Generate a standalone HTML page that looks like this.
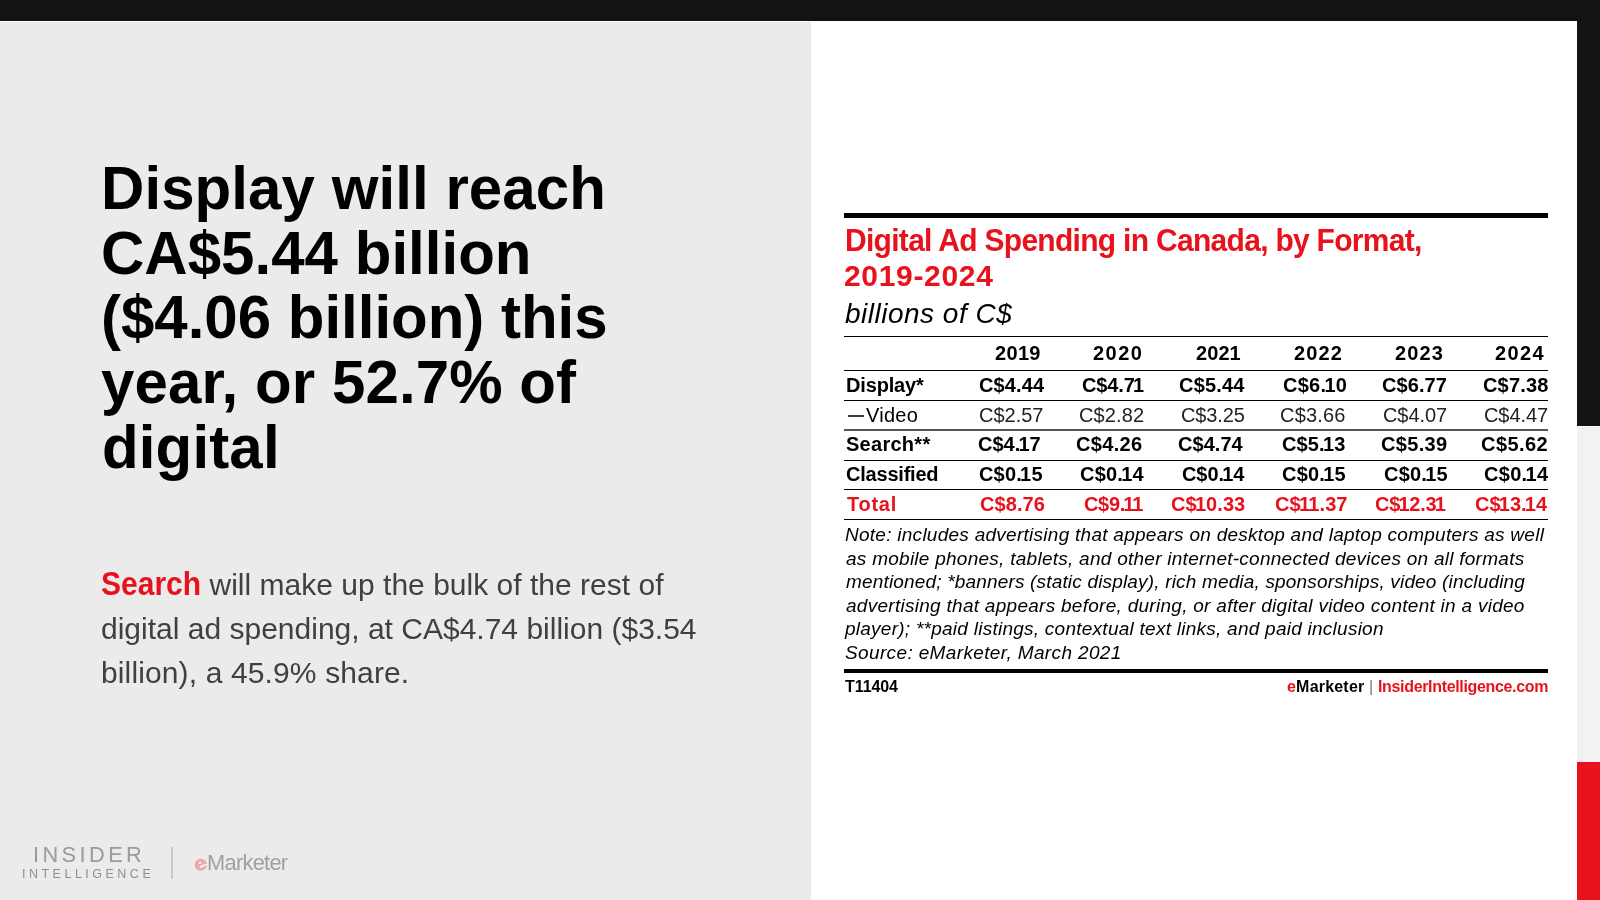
<!DOCTYPE html>
<html><head><meta charset="utf-8">
<style>
*{margin:0;padding:0;box-sizing:border-box}
html,body{width:1600px;height:900px;overflow:hidden;background:#fff;font-family:"Liberation Sans",sans-serif}
.bx{position:absolute}
.r{position:absolute}
.t{position:absolute;white-space:nowrap;line-height:1;will-change:transform}
</style></head><body>
<div class="bx" style="left:0;top:0;width:1600px;height:21px;background:#131313"></div>
<div class="bx" style="left:0;top:22px;width:811px;height:878px;background:#ebebeb"></div>
<div class="bx" style="left:1577px;top:0;width:23px;height:426px;background:#131313"></div>
<div class="bx" style="left:1577px;top:427px;width:23px;height:335px;background:#f2f2f2"></div>
<div class="bx" style="left:1577px;top:762px;width:23px;height:138px;background:#e8121c"></div>
<div class="r" style="left:844px;top:213px;width:704px;height:5px;background:#000"></div>
<div class="r" style="left:844px;top:336px;width:704px;height:1px;background:#000"></div>
<div class="r" style="left:844px;top:370px;width:704px;height:1px;background:#000"></div>
<div class="r" style="left:844px;top:400px;width:704px;height:1px;background:#000"></div>
<div class="r" style="left:844px;top:429px;width:704px;height:2px;background:#555"></div>
<div class="r" style="left:844px;top:460px;width:704px;height:1px;background:#000"></div>
<div class="r" style="left:844px;top:489px;width:704px;height:1px;background:#000"></div>
<div class="r" style="left:844px;top:519px;width:704px;height:1px;background:#000"></div>
<div class="r" style="left:844px;top:669px;width:704px;height:4px;background:#000"></div>
<div class="t" id="h0" style="left:100.90px;top:158.90px;font-size:60px;font-weight:bold;color:#000;letter-spacing:0.074px;transform:scaleY(1.03);transform-origin:0 50.80px">Display will reach</div>
<div class="t" id="h1" style="left:101.00px;top:223.55px;font-size:60px;font-weight:bold;color:#000;letter-spacing:0.029px;transform:scaleY(1.03);transform-origin:0 50.80px">CA$5.44 billion</div>
<div class="t" id="h2" style="left:101.00px;top:288.20px;font-size:60px;font-weight:bold;color:#000;letter-spacing:-0.005px;transform:scaleY(1.03);transform-origin:0 50.80px">($4.06 billion) this</div>
<div class="t" id="h3" style="left:100.80px;top:352.85px;font-size:60px;font-weight:bold;color:#000;letter-spacing:0.094px;transform:scaleY(1.03);transform-origin:0 50.80px">year, or 52.7% of</div>
<div class="t" id="h4" style="left:101.50px;top:417.50px;font-size:60px;font-weight:bold;color:#000;letter-spacing:0.150px;transform:scaleY(1.03);transform-origin:0 50.80px">digital</div>
<div class="t" id="b0" style="left:101.00px;top:570.10px;font-size:30px;color:#404040;letter-spacing:0.013px;transform:scaleY(1.0);transform-origin:0 25.40px"><b style="color:#e8121c;display:inline-block;transform:scaleY(1.1);transform-origin:0 25.4px">Search</b> will make up the bulk of the rest of</div>
<div class="t" id="b1" style="left:101.00px;top:613.80px;font-size:30px;color:#404040;letter-spacing:0.003px;transform:scaleY(1.0);transform-origin:0 25.40px">digital ad spending, at CA$4.74 billion ($3.54</div>
<div class="t" id="b2" style="left:101.00px;top:657.50px;font-size:30px;color:#404040;letter-spacing:0.130px;transform:scaleY(1.0);transform-origin:0 25.40px">billion), a 45.9% share.</div>
<div class="t" id="tt0" style="left:844.50px;top:225.70px;font-size:30px;font-weight:bold;color:#e8121c;letter-spacing:-0.705px;transform:scaleY(1.05);transform-origin:0 25.40px">Digital Ad Spending in Canada, by Format,</div>
<div class="t" id="tt1" style="left:844.30px;top:260.80px;font-size:30px;font-weight:bold;color:#e8121c;letter-spacing:0.671px">2019-2024</div>
<div class="t" id="st" style="left:845.10px;top:300.39px;font-size:28px;font-style:italic;color:#000;letter-spacing:0.495px">billions of C$</div>
<div class="t" id="y0" style="right:558.75px;top:343.07px;font-size:20px;font-weight:bold;color:#000;letter-spacing:0.335px">2019</div>
<div class="t" id="y1" style="right:456.43px;top:343.07px;font-size:20px;font-weight:bold;color:#000;letter-spacing:1.467px">2020</div>
<div class="t" id="y2" style="right:359.73px;top:343.07px;font-size:20px;font-weight:bold;color:#000;letter-spacing:0.067px">2021</div>
<div class="t" id="y3" style="right:257.06px;top:343.07px;font-size:20px;font-weight:bold;color:#000;letter-spacing:1.134px">2022</div>
<div class="t" id="y4" style="right:156.06px;top:343.07px;font-size:20px;font-weight:bold;color:#000;letter-spacing:1.134px">2023</div>
<div class="t" id="y5" style="right:54.70px;top:343.07px;font-size:20px;font-weight:bold;color:#000;letter-spacing:1.400px">2024</div>
<div class="t" id="l0" style="left:845.50px;top:375.07px;font-size:20px;font-weight:bold;color:#000;letter-spacing:-0.158px">Display*</div>
<div class="t" id="v00" style="right:555.78px;top:375.07px;font-size:20px;font-weight:bold;color:#000;letter-spacing:0.120px">C$4.44</div>
<div class="t" id="v01" style="right:455.62px;top:375.07px;font-size:20px;font-weight:bold;color:#000;letter-spacing:-0.120px">C$4.7<span style="margin-left:-1.8px">1</span></div>
<div class="t" id="v02" style="right:354.90px;top:375.07px;font-size:20px;font-weight:bold;color:#000;letter-spacing:0.200px">C$5.44</div>
<div class="t" id="v03" style="right:253.26px;top:375.07px;font-size:20px;font-weight:bold;color:#000;letter-spacing:0.240px">C$6.<span style="margin-left:-1.8px">1</span>0</div>
<div class="t" id="v04" style="right:152.92px;top:375.07px;font-size:20px;font-weight:bold;color:#000;letter-spacing:0.080px">C$6.77</div>
<div class="t" id="v05" style="right:52.04px;top:375.07px;font-size:20px;font-weight:bold;color:#000;letter-spacing:0.160px">C$7.38</div>
<div class="t" id="l1" style="left:848.20px;top:404.77px;font-size:20px;font-weight:normal;color:#000;letter-spacing:0.250px"><span style="display:inline-block;width:16px;height:2px;background:#3a3a3a;vertical-align:5.2px;margin-right:2px"></span>Video</div>
<div class="t" id="v10" style="right:556.50px;top:404.77px;font-size:20px;font-weight:normal;color:#222;letter-spacing:0.000px">C$2.57</div>
<div class="t" id="v11" style="right:455.78px;top:404.77px;font-size:20px;font-weight:normal;color:#222;letter-spacing:0.120px">C$2.82</div>
<div class="t" id="v12" style="right:355.62px;top:404.77px;font-size:20px;font-weight:normal;color:#222;letter-spacing:-0.120px">C$3.25</div>
<div class="t" id="v13" style="right:253.90px;top:404.77px;font-size:20px;font-weight:normal;color:#222;letter-spacing:0.200px">C$3.66</div>
<div class="t" id="v14" style="right:153.08px;top:404.77px;font-size:20px;font-weight:normal;color:#222;letter-spacing:-0.080px">C$4.07</div>
<div class="t" id="v15" style="right:52.48px;top:404.77px;font-size:20px;font-weight:normal;color:#222;letter-spacing:-0.080px">C$4.47</div>
<div class="t" id="l2" style="left:845.50px;top:434.07px;font-size:20px;font-weight:bold;color:#000;letter-spacing:0.271px">Search**</div>
<div class="t" id="v20" style="right:559.10px;top:434.07px;font-size:20px;font-weight:bold;color:#000;letter-spacing:0.000px">C$4.<span style="margin-left:-1.8px">1</span>7</div>
<div class="t" id="v21" style="right:457.58px;top:434.07px;font-size:20px;font-weight:bold;color:#000;letter-spacing:0.320px">C$4.26</div>
<div class="t" id="v22" style="right:356.86px;top:434.07px;font-size:20px;font-weight:bold;color:#000;letter-spacing:0.040px">C$4.74</div>
<div class="t" id="v23" style="right:254.78px;top:434.07px;font-size:20px;font-weight:bold;color:#000;letter-spacing:0.120px">C$5.<span style="margin-left:-1.8px">1</span>3</div>
<div class="t" id="v24" style="right:152.68px;top:434.07px;font-size:20px;font-weight:bold;color:#000;letter-spacing:0.320px">C$5.39</div>
<div class="t" id="v25" style="right:51.96px;top:434.07px;font-size:20px;font-weight:bold;color:#000;letter-spacing:0.440px">C$5.62</div>
<div class="t" id="l3" style="left:845.50px;top:463.77px;font-size:20px;font-weight:bold;color:#000;letter-spacing:-0.213px">Classified</div>
<div class="t" id="v30" style="right:556.94px;top:463.77px;font-size:20px;font-weight:bold;color:#000;letter-spacing:0.160px">C$0.<span style="margin-left:-1.8px">1</span>5</div>
<div class="t" id="v31" style="right:455.70px;top:463.77px;font-size:20px;font-weight:bold;color:#000;letter-spacing:0.200px">C$0.<span style="margin-left:-1.8px">1</span>4</div>
<div class="t" id="v32" style="right:355.98px;top:463.77px;font-size:20px;font-weight:bold;color:#000;letter-spacing:-0.080px">C$0.<span style="margin-left:-1.8px">1</span>4</div>
<div class="t" id="v33" style="right:253.70px;top:463.77px;font-size:20px;font-weight:bold;color:#000;letter-spacing:0.200px">C$0.<span style="margin-left:-1.8px">1</span>5</div>
<div class="t" id="v34" style="right:152.40px;top:463.77px;font-size:20px;font-weight:bold;color:#000;letter-spacing:0.200px">C$0.<span style="margin-left:-1.8px">1</span>5</div>
<div class="t" id="v35" style="right:51.32px;top:463.77px;font-size:20px;font-weight:bold;color:#000;letter-spacing:0.280px">C$0.<span style="margin-left:-1.8px">1</span>4</div>
<div class="t" id="l4" style="left:846.50px;top:493.77px;font-size:20px;font-weight:bold;color:#e8121c;letter-spacing:0.750px">Total</div>
<div class="t" id="v40" style="right:555.42px;top:493.77px;font-size:20px;font-weight:bold;color:#e8121c;letter-spacing:0.080px">C$8.76</div>
<div class="t" id="v41" style="right:456.82px;top:493.77px;font-size:20px;font-weight:bold;color:#e8121c;letter-spacing:-0.320px">C$9.<span style="margin-left:-1.8px">1</span><span style="margin-left:-1.8px">1</span></div>
<div class="t" id="v42" style="right:355.03px;top:493.77px;font-size:20px;font-weight:bold;color:#e8121c;letter-spacing:0.067px">C$<span style="margin-left:-1.8px">1</span>0.33</div>
<div class="t" id="v43" style="right:252.44px;top:493.77px;font-size:20px;font-weight:bold;color:#e8121c;letter-spacing:0.066px">C$<span style="margin-left:-1.8px">1</span><span style="margin-left:-1.8px">1</span>.37</div>
<div class="t" id="v44" style="right:154.80px;top:493.77px;font-size:20px;font-weight:bold;color:#e8121c;letter-spacing:-0.200px">C$<span style="margin-left:-1.8px">1</span>2.3<span style="margin-left:-1.8px">1</span></div>
<div class="t" id="v45" style="right:53.40px;top:493.77px;font-size:20px;font-weight:bold;color:#e8121c;letter-spacing:-0.000px">C$<span style="margin-left:-1.8px">1</span>3.<span style="margin-left:-1.8px">1</span>4</div>
<div class="t" id="n0" style="left:844.90px;top:524.81px;font-size:19px;font-style:italic;color:#000;letter-spacing:0.267px">Note: includes advertising that appears on desktop and laptop computers as well</div>
<div class="t" id="n1" style="left:845.90px;top:548.61px;font-size:19px;font-style:italic;color:#000;letter-spacing:0.262px">as mobile phones, tablets, and other internet-connected devices on all formats</div>
<div class="t" id="n2" style="left:846.00px;top:572.41px;font-size:19px;font-style:italic;color:#000;letter-spacing:0.172px">mentioned; *banners (static display), rich media, sponsorships, video (including</div>
<div class="t" id="n3" style="left:846.00px;top:596.01px;font-size:19px;font-style:italic;color:#000;letter-spacing:0.278px">advertising that appears before, during, or after digital video content in a video</div>
<div class="t" id="n4" style="left:845.00px;top:619.21px;font-size:19px;font-style:italic;color:#000;letter-spacing:0.254px">player); **paid listings, contextual text links, and paid inclusion</div>
<div class="t" id="n5" style="left:845.00px;top:643.41px;font-size:19px;font-style:italic;color:#000;letter-spacing:0.364px">Source: eMarketer, March 2021</div>
<div class="t" id="f0" style="left:845.00px;top:678.95px;font-size:16px;font-weight:bold;color:#000;letter-spacing:-0.080px">T11404</div>
<div class="t" id="f1a" style="left:1286.60px;top:678.95px;font-size:16px;font-weight:bold;color:#000;letter-spacing:0.203px"><span style="color:#e8121c">e</span>Marketer</div>
<div class="t" id="f1b" style="left:1369.20px;top:678.95px;font-size:16px;color:#777">|</div>
<div class="t" id="f1c" style="left:1377.60px;top:678.95px;font-size:16px;font-weight:bold;color:#e8121c;letter-spacing:-0.336px">InsiderIntelligence.com</div>
<div class="t" id="lg0" style="left:32.50px;top:843.74px;font-size:21.8px;color:#9a9a9a;letter-spacing:3.399px">INSIDER</div>
<div class="t" id="lg1" style="left:22.00px;top:867.92px;font-size:12.5px;color:#8f8f8f;letter-spacing:3.493px">INTELLIGENCE</div>
<div class="t" id="lg2" style="left:206.60px;top:851.74px;font-size:21.8px;color:#a0a0a0;letter-spacing:-0.698px">Marketer</div>
<div class="bx" style="left:171px;top:847px;width:2px;height:32px;background:#c8c8c8"></div>
<svg class="bx" style="left:194px;top:858px" width="14" height="14" viewBox="0 0 14 14"><circle cx="6.75" cy="6.8" r="6.1" fill="#eda9af"/><ellipse cx="6" cy="4.9" rx="1.4" ry="0.9" transform="rotate(-30 6 4.9)" fill="#fff"/><path d="M5.6 8.9 Q7.5 6.9 12.9 6.1 L12.9 6.9 Q9.2 7.5 7.6 9.6 Q6.2 10.1 5.6 8.9Z" fill="#fff"/></svg>
</body></html>
